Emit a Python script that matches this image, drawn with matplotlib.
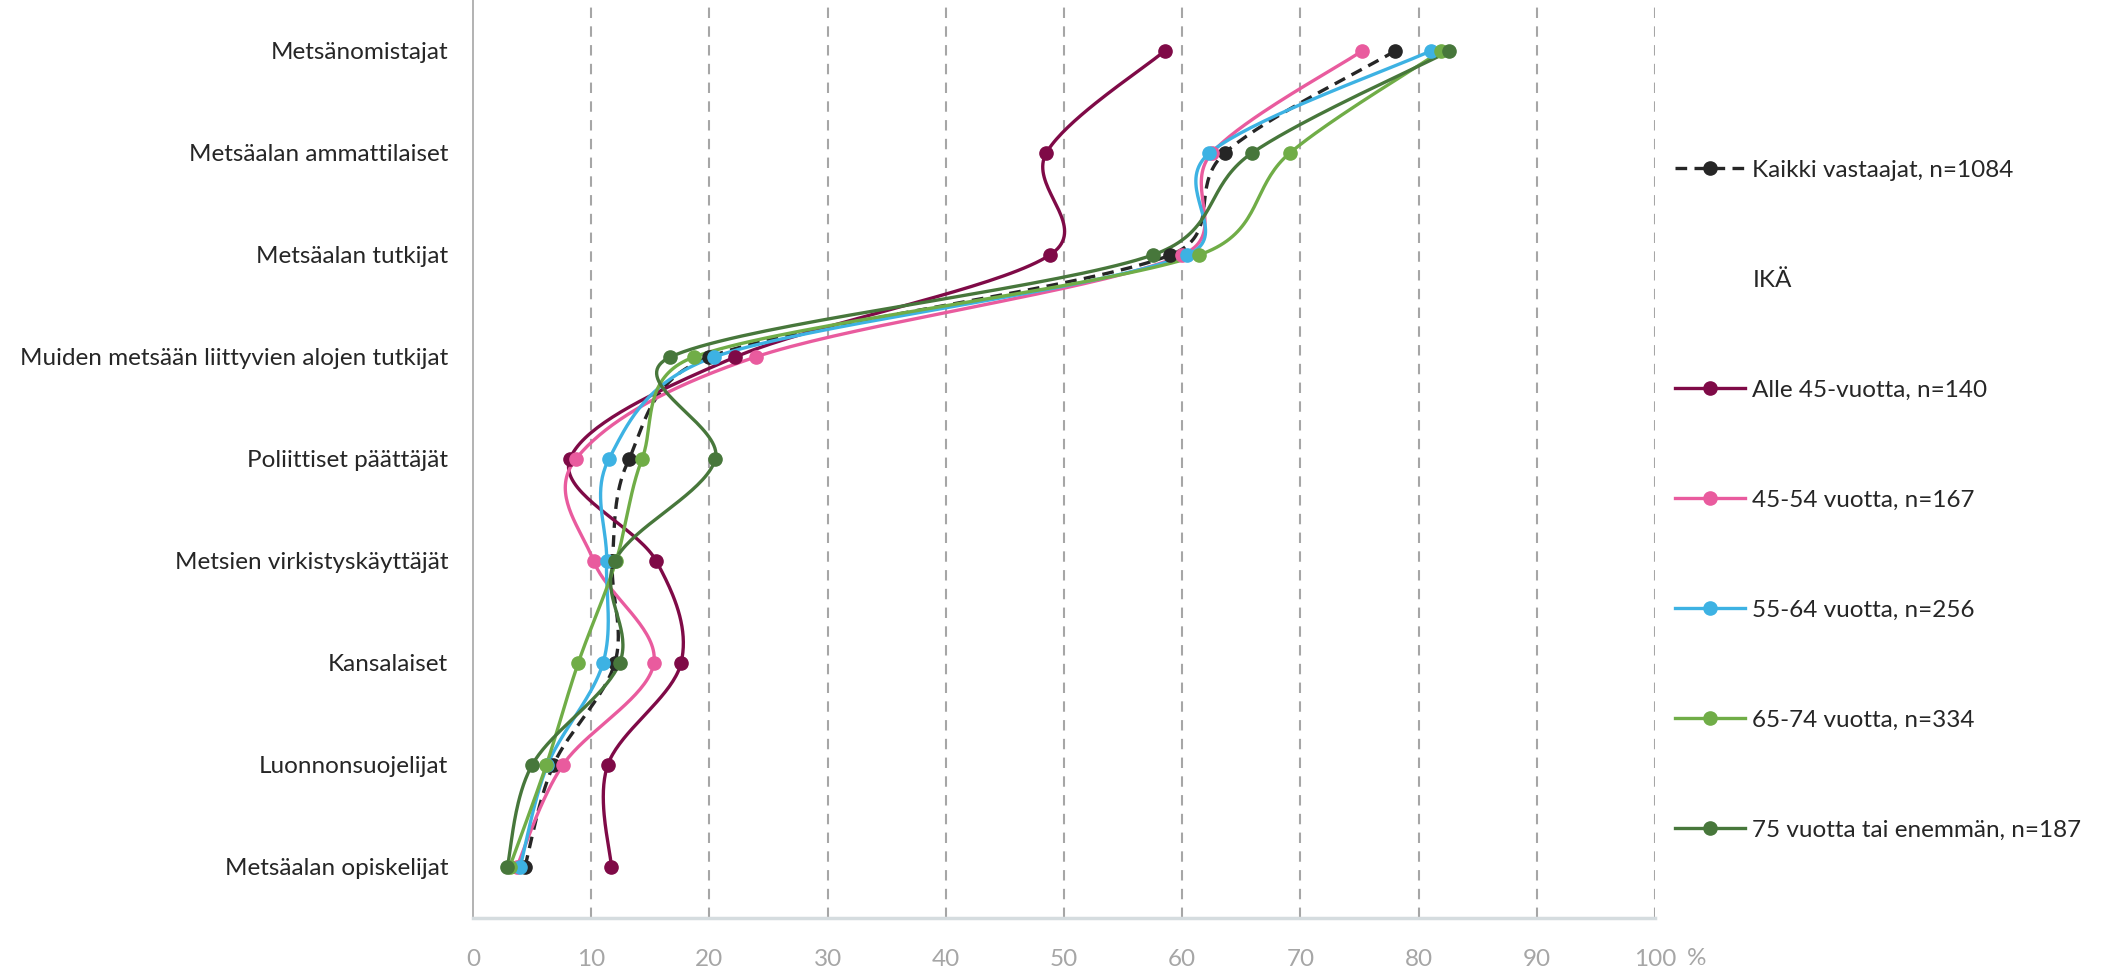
import matplotlib
matplotlib.use("Agg")
import matplotlib.pyplot as plt
from matplotlib.lines import Line2D
import numpy as np

plt.rcParams['font.family'] = ['Lato', 'DejaVu Sans']

categories = ["Metsänomistajat", "Metsäalan ammattilaiset", "Metsäalan tutkijat",
              "Muiden metsään liittyvien alojen tutkijat", "Poliittiset päättäjät",
              "Metsien virkistyskäyttäjät", "Kansalaiset", "Luonnonsuojelijat",
              "Metsäalan opiskelijat"]

kaikki = [78.0, 63.6, 59.0, 20.0, 13.2, 11.8, 12.0, 6.8, 4.4]
alle45 = [58.5, 48.5, 48.8, 22.2, 8.2, 15.5, 17.6, 11.4, 11.7]
v45_54 = [75.2, 62.5, 60.0, 23.9, 8.7, 10.2, 15.3, 7.6, 3.7]
v55_64 = [81.0, 62.3, 60.4, 20.4, 11.5, 11.3, 11.0, 6.3, 4.0]
v65_74 = [81.9, 69.1, 61.4, 18.7, 14.3, 12.1, 8.9, 6.2, 3.1]
v75 = [82.6, 65.9, 57.5, 16.7, 20.5, 12.0, 12.4, 5.0, 2.9]

series = [
    ("Kaikki vastaajat, n=1084", kaikki, "#262626", "--"),
    ("Alle 45-vuotta, n=140", alle45, "#7f0a47", "-"),
    ("45-54 vuotta, n=167", v45_54, "#e95b9e", "-"),
    ("55-64 vuotta, n=256", v55_64, "#3db2e3", "-"),
    ("65-74 vuotta, n=334", v65_74, "#70ad47", "-"),
    ("75 vuotta tai enemmän, n=187", v75, "#47773b", "-"),
]

# approx pixels per data unit on screen (x per %, y per category row)
SX, SY = 11.82, 101.7


def ctrl(a, b, seg):
    # control offset along (b - a), limited to half of the segment length
    d = b - a
    L = np.hypot(*d)
    if L == 0:
        return d * 0
    f = 1 / 6
    if L * f > np.hypot(*seg) / 2:
        f = np.hypot(*seg) / 2 / L
    return d * f


def smooth(xs, ys, n=40):
    # Excel-like smoothed line (Catmull-Rom style cubic Bezier in screen space)
    p = np.column_stack([np.asarray(xs) * SX, np.asarray(ys) * SY]).astype(float)
    p = np.vstack([p[0], p, p[-1]])
    out = []
    for i in range(1, len(p) - 2):
        p0, p1, p2, p3 = p[i - 1], p[i], p[i + 1], p[i + 2]
        c1 = p1 + ctrl(p0, p2, p2 - p1)
        c2 = p2 - ctrl(p1, p3, p2 - p1)
        t = np.linspace(0, 1, n)[:, None]
        seg = ((1 - t) ** 3) * p1 + 3 * ((1 - t) ** 2) * t * c1 + 3 * (1 - t) * t ** 2 * c2 + t ** 3 * p2
        out.append(seg if i == 1 else seg[1:])
    out = np.vstack(out)
    return out[:, 0] / SX, out[:, 1] / SY


fig = plt.figure(figsize=(21.06, 9.72), dpi=100)
ax = fig.add_axes([0.2246, 0.0556, 0.5613, 0.9444])

fs = 17.5
ypos = np.arange(len(categories))
handles = []
for name, vals, col, ls in series:
    sx, sy = smooth(vals, ypos)
    if ls == "--":
        ax.plot(sx, sy, color=col, lw=2.4, dashes=(3.5, 2.2), zorder=3)
    else:
        ax.plot(sx, sy, color=col, lw=2.4, zorder=3)
    ax.plot(vals, ypos, "o", color=col, ms=9.5, zorder=4)
    h = Line2D([], [], color=col, lw=2.4, marker="o", ms=9.5)
    if ls == "--":
        h.set_dashes((3.5, 2.2))
    handles.append(h)

ax.set_xlim(0, 100)
ax.set_ylim(len(categories) - 0.5, -0.5)
ax.set_xticks(range(0, 101, 10))
ax.set_yticks(ypos)
ax.set_yticklabels(categories, fontsize=fs, color="#262626")
ax.tick_params(axis="y", length=0, pad=18)
ax.tick_params(axis="x", length=0, pad=22, labelsize=fs, labelcolor="#a6a6a6")
for x in range(10, 101, 10):
    ax.axvline(x, color="#a6a6a6", lw=1.5, dashes=(5, 4), zorder=1)
for s in ["top", "right"]:
    ax.spines[s].set_visible(False)
ax.spines["left"].set_color("#a6a6a6")
ax.spines["left"].set_linewidth(1.2)
ax.spines["bottom"].set_color("#d5dcdf")
ax.spines["bottom"].set_linewidth(2.5)
fig.text(1697 / 2106, 1 - 958 / 972, "%", fontsize=fs, color="#a6a6a6", ha="center", va="center")

blank = Line2D([], [], color="none")
leg_handles = [handles[0], blank] + handles[1:]
leg_labels = [series[0][0], "IKÄ"] + [s[0] for s in series[1:]]
fig.legend(leg_handles, leg_labels, loc="upper left", bbox_to_anchor=(1665 / 2106, 1 - 150 / 972),
           frameon=False, fontsize=fs, labelcolor="#262626", handlelength=2.9,
           handletextpad=0.3, labelspacing=3.66, borderaxespad=0)

fig.savefig("out.png", dpi=100)
